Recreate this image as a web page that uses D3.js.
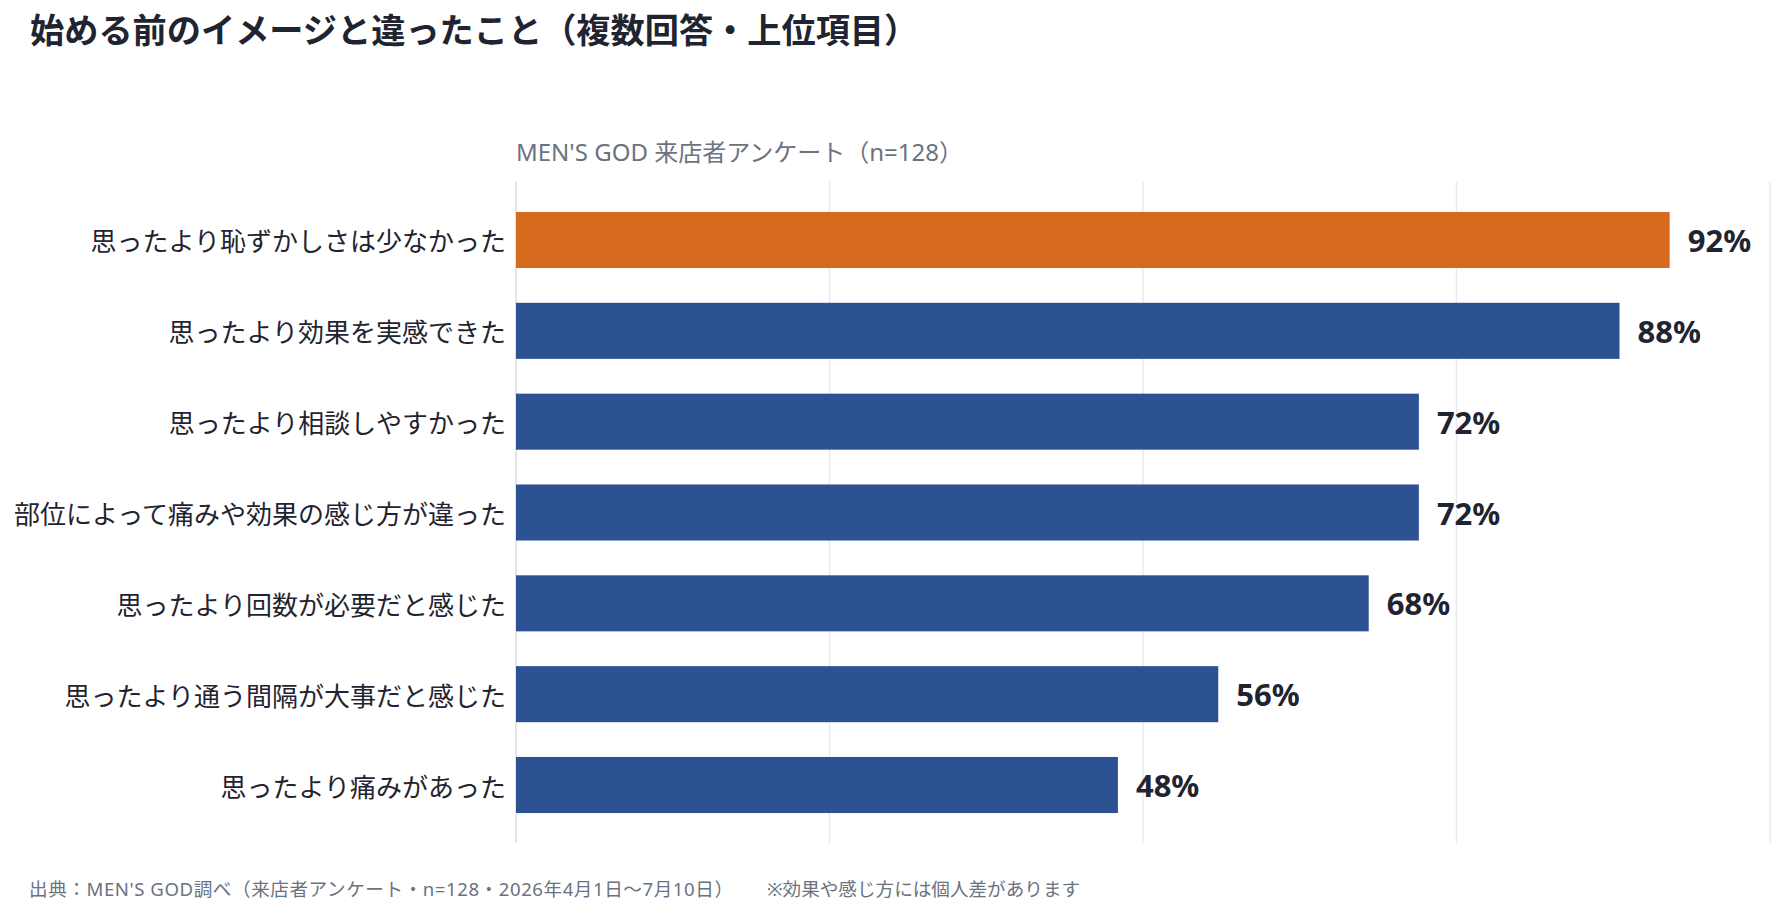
<!DOCTYPE html>
<html lang="ja">
<head>
    <meta charset="UTF-8">
    <title>始める前のイメージと違ったこと</title>
    <script src="https://d3js.org/d3.v7.min.js"></script>
    <style>
        body { margin: 0; background: #fff; }
        svg { display: block; font-family: "Noto Sans CJK JP", "Noto Sans", sans-serif; }
        .latin { font-family: "Noto Sans", "Noto Sans CJK JP", sans-serif; }
    </style>
</head>
<body>
    <svg id="chart" width="1785" height="915"></svg>
    <script>
        const categories = [
            '思ったより恥ずかしさは少なかった',
            '思ったより効果を実感できた',
            '思ったより相談しやすかった',
            '部位によって痛みや効果の感じ方が違った',
            '思ったより回数が必要だと感じた',
            '思ったより通う間隔が大事だと感じた',
            '思ったより痛みがあった'
        ];
        const values = [92, 88, 72, 72, 68, 56, 48];
        const gridTicks = [0, 25, 50, 75, 100];

        const titleText = '始める前のイメージと違ったこと（複数回答・上位項目）';
        const subtitleText = 'MEN\'S GOD 来店者アンケート（n=128）';
        const sourceText = '出典：MEN\'S GOD調べ（来店者アンケート・n=128・2026年4月1日〜7月10日）';
        const noteText = '※効果や感じ方には個人差があります';

        const svg = d3.select('#chart');
        const plotLeft = 516, plotRight = 1770, plotTop = 182, plotBottom = 843;

        const x = d3.scaleLinear().domain([0, 100]).range([plotLeft, plotRight]);
        const y = d3.scaleBand().domain(categories).range([plotTop, plotBottom])
            .paddingInner(0.383).paddingOuter(0.33);

        // grid
        svg.append('g').selectAll('line')
            .data(gridTicks)
            .enter().append('line')
            .attr('x1', d => x(d)).attr('x2', d => x(d))
            .attr('y1', plotTop).attr('y2', plotBottom)
            .attr('stroke', d => d === 0 ? '#d9dce1' : '#e8eaed')
            .attr('stroke-width', 1.5);

        // bars
        svg.append('g').selectAll('rect')
            .data(values)
            .enter().append('rect')
            .attr('x', x(0))
            .attr('y', (d, i) => y(categories[i]))
            .attr('width', d => x(d) - x(0))
            .attr('height', y.bandwidth())
            .attr('fill', (d, i) => i === 0 ? '#d86a1f' : '#2c5294');

        // category labels
        svg.append('g').selectAll('text')
            .data(categories)
            .enter().append('text')
            .attr('x', plotLeft - 10)
            .attr('y', d => y(d) + y.bandwidth() / 2)
            .attr('text-anchor', 'end')
            .attr('dominant-baseline', 'central')
            .attr('font-size', 26)
            .attr('fill', '#1f2430')
            .text(d => d);

        // value labels
        svg.append('g').selectAll('text')
            .data(values)
            .enter().append('text')
            .attr('class', 'latin')
            .attr('x', d => x(d) + 18)
            .attr('y', (d, i) => y(categories[i]) + y.bandwidth() / 2)
            .attr('dominant-baseline', 'central')
            .attr('font-size', 31)
            .attr('font-weight', 700)
            .attr('fill', '#1f2430')
            .text(d => d + '%');

        svg.append('text')
            .attr('x', 30).attr('y', 28)
            .attr('dominant-baseline', 'central')
            .attr('font-size', 34.2)
            .attr('font-weight', 700)
            .attr('fill', '#1f2430')
            .text(titleText);

        svg.append('text')
            .attr('class', 'latin')
            .attr('x', plotLeft).attr('y', 151)
            .attr('dominant-baseline', 'central')
            .attr('font-size', 24)
            .attr('fill', '#6b7280')
            .text(subtitleText);

        // footer
        svg.append('text')
            .attr('class', 'latin')
            .attr('x', 29).attr('y', 888)
            .attr('dominant-baseline', 'central')
            .attr('font-size', 18.6)
            .attr('textLength', 704)
            .attr('lengthAdjust', 'spacing')
            .attr('fill', '#6b7280')
            .text(sourceText);

        svg.append('text')
            .attr('class', 'latin')
            .attr('x', 767).attr('y', 888)
            .attr('dominant-baseline', 'central')
            .attr('font-size', 18.6)
            .attr('fill', '#6b7280')
            .text(noteText);
    </script>
</body>
</html>
